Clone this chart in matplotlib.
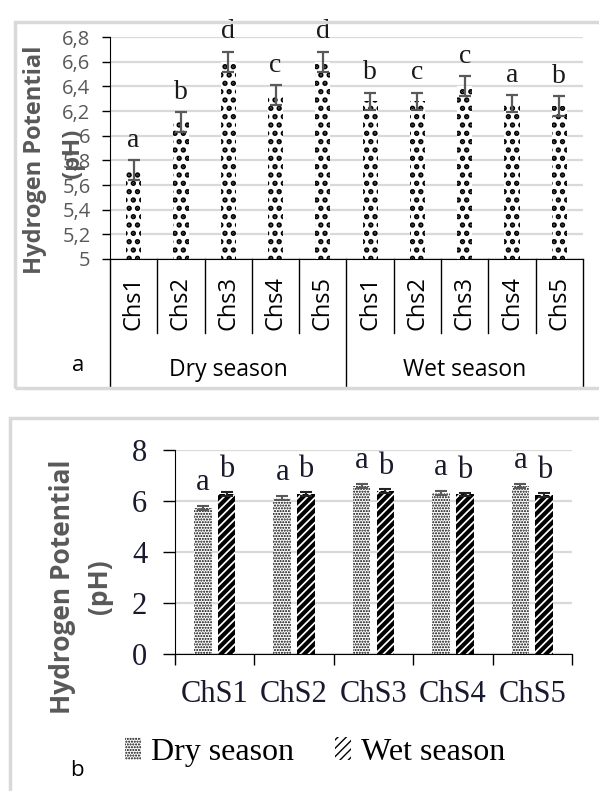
import numpy as np
import matplotlib
matplotlib.use("Agg")
import matplotlib.pyplot as plt
from matplotlib.patches import Rectangle
from matplotlib.ticker import FuncFormatter, FixedLocator

# pH of the five sampling points, dry and wet season (mean +/- sd)
stations_a = ["Chs1", "Chs2", "Chs3", "Chs4", "Chs5"]
stations_b = ["ChS1", "ChS2", "ChS3", "ChS4", "ChS5"]
seasons = ["Dry season", "Wet season"]
dry_ph = [5.72, 6.11, 6.60, 6.33, 6.60]
dry_sd = [0.08, 0.08, 0.08, 0.08, 0.08]
wet_ph = [6.28, 6.28, 6.40, 6.26, 6.24]
wet_sd = [0.07, 0.07, 0.08, 0.07, 0.08]
# Tukey groups within each season (panel a) and between seasons (panel b)
dry_letters_a = ["a", "b", "d", "c", "d"]
wet_letters_a = ["b", "c", "c", "a", "b"]
dry_letters_b = ["a", "a", "a", "a", "a"]
wet_letters_b = ["b", "b", "b", "b", "b"]

GREY = "#595959"
GRID = "#d9d9d9"
SANS = "Open Sans"
SERIF = "Liberation Serif"

W, H = 599, 791
fig = plt.figure(figsize=(W / 100, H / 100), dpi=100)

# light frames around each panel
fig.add_artist(Rectangle((15 / W, 1 - 388 / H), 1.0, (388 - 22) / H,
                         transform=fig.transFigure, fill=False,
                         edgecolor=GRID, lw=2.5))
fig.add_artist(Rectangle((10 / W, -0.1), 1.0, 1 - 418 / H + 0.1,
                         transform=fig.transFigure, fill=False,
                         edgecolor=GRID, lw=2.5))

# ---------------- panel a: one bar per station and season ----------------
ax1 = fig.add_axes([110 / W, 1 - 259 / H, 473 / W, 222 / H])
vals = dry_ph + wet_ph
errs = dry_sd + wet_sd
letters = dry_letters_a + wet_letters_a
x1 = np.arange(len(vals))

with plt.rc_context({"hatch.linewidth": 2.6}):
    ax1.bar(x1, vals, width=0.32, color="white", edgecolor="black",
            linewidth=0, hatch="..", zorder=2)
ax1.errorbar(x1, vals, yerr=errs, fmt="none", ecolor=GREY, elinewidth=1.6,
             capsize=4.5, capthick=1.6, zorder=3)
for xi, v, e, lab in zip(x1, vals, errs, letters):
    ax1.text(xi, v + e + 0.06, lab, ha="center", va="bottom",
             fontsize=20, family=SERIF, color="#1a1a1a")

ax1.set_xlim(-0.5, len(vals) - 0.5)
ax1.set_ylim(5, 6.8)
ax1.set_yticks(np.arange(5, 6.81, 0.2))
ax1.yaxis.set_major_formatter(FuncFormatter(lambda v, _: f"{v:g}".replace(".", ",")))
ax1.set_xticks([])
ax1.yaxis.grid(True, color=GRID, lw=1.6)
ax1.set_axisbelow(True)
for s in ["top", "right"]:
    ax1.spines[s].set_visible(False)
ax1.tick_params(axis="y", direction="out", length=6, pad=8, labelsize=14.5,
                labelcolor=GREY, width=1)
for lab in ax1.get_yticklabels():
    lab.set_family(SANS)

# multi-level category axis
xt = ax1.get_xaxis_transform()
n_st = len(stations_a)
for i in range(len(vals) + 1):
    depth = -0.58 if i % n_st == 0 else -0.335
    ax1.plot([i - 0.5, i - 0.5], [0, depth], transform=xt, clip_on=False,
             color="black", lw=1)
for i, name in enumerate(stations_a * 2):
    ax1.text(i, -0.075, name, transform=xt, rotation=90, ha="center", va="top",
             fontsize=17, family=SANS, color="black")
for k, season in enumerate(seasons):
    ax1.text(k * n_st + (n_st - 1) / 2, -0.5, season, transform=xt,
             ha="center", va="center", fontsize=16.5, family=SANS, color="black")

fig.text(35 / W, 1 - 160 / H, "Hydrogen Potential", rotation=90, ha="center",
         va="center", fontsize=17, fontweight="bold", family=SANS, color=GREY)
fig.text(73 / W, 1 - 153 / H, "(pH)", rotation=90, ha="center", va="center",
         fontsize=17, fontweight="bold", family=SANS, color=GREY)
fig.text(78 / W, 1 - 366 / H, "a", ha="center", va="center", fontsize=16,
         family=SANS, color="black")

# ---------------- panel b: dry vs wet per station ----------------
ax2 = fig.add_axes([175 / W, 1 - 654 / H, 397 / W, 204 / H])
x2 = np.arange(len(stations_b))
off, bw = 0.15, 0.22

with plt.rc_context({"hatch.linewidth": 1.0}):
    b_dry = ax2.bar(x2 - off, dry_ph, width=bw, color="white",
                    edgecolor="black", linewidth=0, hatch="......",
                    label=seasons[0], zorder=2)
with plt.rc_context({"hatch.linewidth": 3.0}):
    b_wet = ax2.bar(x2 + off, wet_ph, width=bw, color="white",
                    edgecolor="black", linewidth=0, hatch="////",
                    label=seasons[1], zorder=2)
ax2.errorbar(x2 - off, dry_ph, yerr=dry_sd, fmt="none", ecolor=GREY,
             elinewidth=1.5, capsize=4, capthick=1.5, zorder=3)
ax2.errorbar(x2 + off, wet_ph, yerr=wet_sd, fmt="none", ecolor="#222222",
             elinewidth=1.5, capsize=4, capthick=1.5, zorder=3)
for xi, v, e, lab in zip(x2 - off, dry_ph, dry_sd, dry_letters_b):
    ax2.text(xi, v + e + 0.35, lab, ha="center", va="bottom", fontsize=22,
             family=SERIF, color="#1a1a2e")
for xi, v, e, lab in zip(x2 + off, wet_ph, wet_sd, wet_letters_b):
    ax2.text(xi, v + e + 0.3, lab, ha="center", va="bottom", fontsize=22,
             family=SERIF, color="#1a1a2e")

ax2.set_xlim(-0.5, len(stations_b) - 0.5)
ax2.set_ylim(0, 8)
ax2.set_yticks([0, 2, 4, 6, 8])
ax2.set_xticks(x2)
ax2.set_xticklabels(stations_b)
ax2.xaxis.set_minor_locator(FixedLocator(np.arange(-0.5, len(stations_b), 1.0)))
ax2.tick_params(axis="x", which="major", length=0, pad=19, labelsize=22)
ax2.tick_params(axis="x", which="minor", direction="out", length=8, width=1)
ax2.tick_params(axis="y", direction="out", length=9, width=1, pad=11,
                labelsize=22)
for lab in ax2.get_xticklabels() + ax2.get_yticklabels():
    lab.set_family(SERIF)
    lab.set_color("#1a1a2e")
ax2.yaxis.grid(True, color=GRID, lw=1.6)
ax2.set_axisbelow(True)
for s in ["top", "right"]:
    ax2.spines[s].set_visible(False)

fig.legend(handles=[b_dry, b_wet], loc="center",
           bbox_to_anchor=(315 / W, 1 - 752 / H), ncol=2, frameon=False,
           prop={"family": SERIF, "size": 23}, handlelength=0.5,
           handleheight=0.7, handletextpad=0.3, columnspacing=1.3)

fig.text(62 / W, 1 - 587 / H, "Hydrogen Potential", rotation=90, ha="center",
         va="center", fontsize=19, fontweight="bold", family=SANS, color=GREY)
fig.text(100 / W, 1 - 587 / H, "(pH)", rotation=90, ha="center", va="center",
         fontsize=19, fontweight="bold", family=SANS, color=GREY)
fig.text(77 / W, 1 - 771 / H, "b", ha="center", va="center", fontsize=16,
         family=SANS, color="black")

fig.savefig("out.png", dpi=100)
